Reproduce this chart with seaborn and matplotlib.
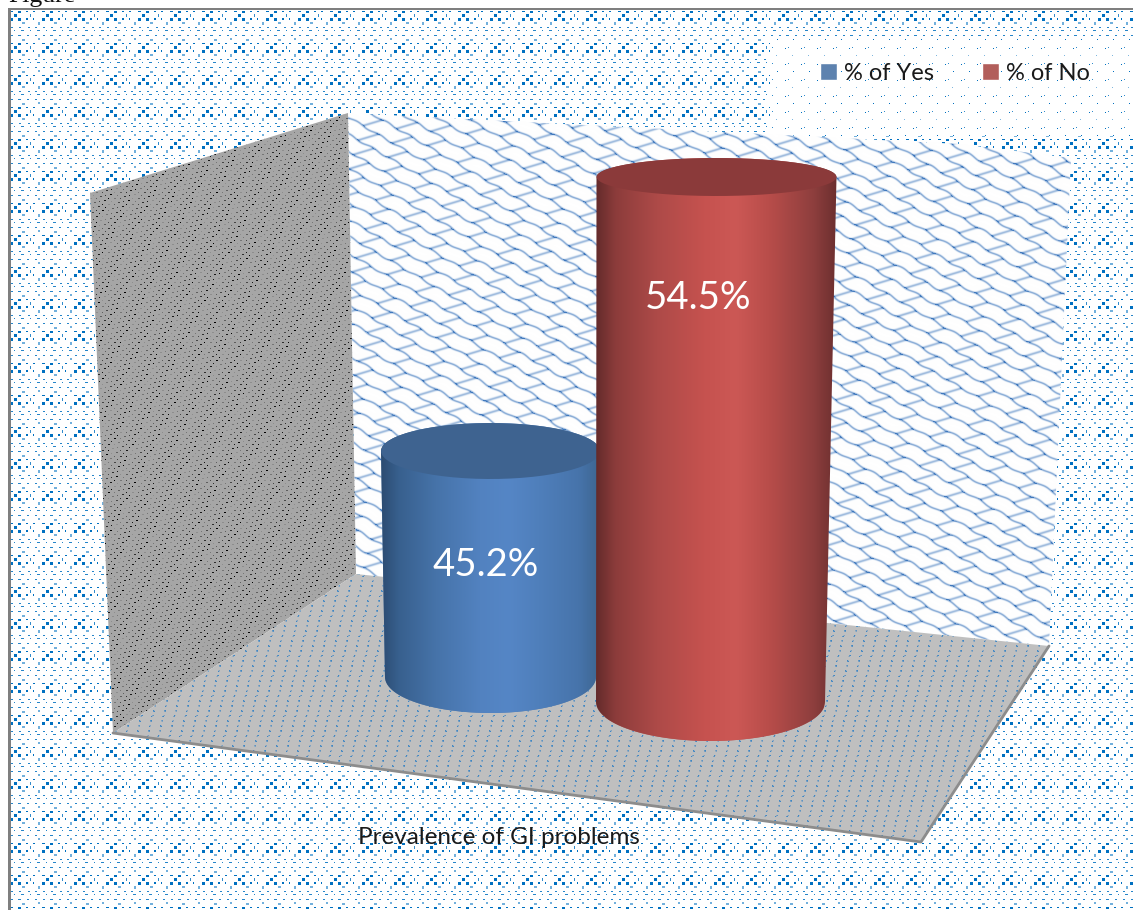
# %%
# Load imports
import numpy as np
import pandas as pd
import matplotlib
matplotlib.use('Agg')
import matplotlib.pyplot as plt
import seaborn as sns
from matplotlib.colors import LinearSegmentedColormap
from matplotlib.patches import Polygon

# %%
# Chart values
groups = ['% of Yes', '% of No']
percentages = [45.2, 54.5]
axis_title = 'Prevalence of GI problems'
bar_colors = ['#4f81bd', '#c0504d']
top_colors = ['#3e6390', '#8b3a3a']

# Excel 3D look: pixel shape of each cylinder (perspective, not data)
base_px = [677, 702]
top_half_w = [109.5, 120]
base_half_w = [105.5, 114.5]
top_shift = [0.5, 2.5]
base_shift = [0.5, -3.5]
top_half_h = [28, 19]
base_half_h = [36, 39]
label_shift = [(-4, 114), (-16, 121)]

blue_stops = ['#2c4c72', '#38608e', '#4673a9', '#5282c0', '#5586c6', '#4f7fbb', '#4774ab', '#3d658f']
red_stops = ['#642b2b', '#8c3c3b', '#ad4a48', '#c6524f', '#cc5855', '#b84d4a', '#8f3f3e', '#6c2f2f']

W, H = 1133, 910
sns.set_theme(style='white')
plt.rcParams['font.family'] = ['Lato', 'DejaVu Sans']

fig = plt.figure(figsize=(W / 100, H / 100), dpi=100, facecolor='white')
bg = fig.add_axes([0, 0, 1, 1], zorder=0)
ax = fig.add_axes([0, 0, 1, 1], zorder=1)
ov = fig.add_axes([0, 0, 1, 1], zorder=2)
for a in (bg, ov):
    a.set_xlim(0, W)
    a.set_ylim(H, 0)
    a.set_autoscale_on(False)
    a.axis('off')
ov.patch.set_alpha(0)

# %%
# Background textures
yy, xx = np.mgrid[0:H, 0:W]


def dotsTile():
    # 32x32 tile of the blue page pattern
    tile = np.zeros((32, 32))
    for x, y, w, h in [(14, 14, 3, 3), (10, 11, 3, 1), (18, 11, 3, 2), (10, 18, 3, 3), (18, 18, 3, 3),
                       (1, 11, 2, 1), (26, 18, 2, 2), (1, 18, 1, 2), (26, 11, 2, 1)]:
        tile[y:y + h, x:x + w] = 1
    tile[14:17, 30] = 0.8
    for x, y, w, h in [(6, 6, 2, 2), (22, 7, 3, 2), (6, 22, 2, 3), (22, 22, 3, 2)]:
        tile[y:y + h, x:x + w] = 0.55
    for x, y, w, h in [(3, 3, 2, 1), (11, 3, 2, 1), (18, 3, 3, 1), (27, 3, 2, 1),
                       (5, 30, 3, 1), (14, 30, 1, 1), (21, 30, 3, 1), (30, 30, 1, 1),
                       (3, 27, 2, 1), (11, 27, 2, 1), (19, 27, 2, 1), (28, 27, 2, 1)]:
        tile[y:y + h, x:x + w] = 0.85
    return tile


def blend(alpha, color, base=(1, 1, 1)):
    color = np.array(matplotlib.colors.to_rgb(color))
    base = np.array(matplotlib.colors.to_rgb(base))
    return base + alpha[..., None] * (color - base)


page = blend(dotsTile()[yy % 32, xx % 32], '#0070c0')
# frame of the pasted picture
page[:10, :] = 1
page[:, :8] = 1
page[8:10, 8:] = 0.5
page[8:, 8:11] = 0.5
bg.imshow(page, extent=(0, W, H, 0), aspect='auto', interpolation='nearest', zorder=1)

# sparser dots behind the legend
sparse = np.zeros((H, W))
sparse[(yy % 32 == 7) & (xx % 16 == 9)] = 1
sparse[(yy % 32 == 23) & (xx % 16 == 8)] = 0.5
sparse[(yy % 16 == 0) & (xx % 16 == 1)] = 1
sparse[(yy % 16 == 15) & (xx % 16 == 4)] = 0.8
im = bg.imshow(blend(sparse, '#0070c0'), extent=(0, W, H, 0), aspect='auto', interpolation='nearest', zorder=2)
im.set_clip_path(Polygon([(770, 38), (W, 38), (W, 136), (770, 136)], transform=bg.transData))

# back wall lattice
across = yy - 0.58 * xx
along = 0.3 * xx + yy
wavy = across + 1.0 * np.sin(2 * np.pi * (xx + 0.58 * yy) / 30)
v = wavy % 17
row = np.floor(wavy / 17)
u = (along + row * 13) % 26
line = np.exp(-(np.minimum(v, 17 - v) / 1.2) ** 2)
link = np.exp(-(np.minimum(u, 26 - u) / 1.3) ** 2)
lattice = np.clip(line * (0.6 + 0.4 * link) + link * 0.5, 0, 1)
im = bg.imshow(blend(lattice, '#3f78bd'), extent=(0, W, H, 0), aspect='auto', interpolation='bilinear', zorder=3)
im.set_clip_path(Polygon([(348, 113), (960, 144), (1071, 158), (1049, 646), (356, 574)], transform=bg.transData))

# left wall
speck = (((xx - yy) % 12 < 2) & ((xx + yy) % 8 < 2)) | (((xx - yy) % 12 == 6) & ((xx + yy) % 6 == 0))
shade = ((xx // 2 * 3 + yy // 2 * 5) % 7 + 1) / 7
im = bg.imshow(blend(speck * shade, '#000000', '#a6a6a6'), extent=(0, W, H, 0), aspect='auto', interpolation='nearest', zorder=4)
im.set_clip_path(Polygon([(90, 193), (348, 113), (356, 574), (113, 733)], transform=bg.transData))

# floor
floor_speck = ((xx + yy // 4) % 11 < 2) & (yy % 5 < 2)
floor_shade = ((xx * 5 + yy * 3) % 4 + 1) / 4 * 0.8
im = bg.imshow(blend(floor_speck * floor_shade, '#1f78c4', '#bfbfbf'), extent=(0, W, H, 0), aspect='auto', interpolation='bilinear', zorder=5)
im.set_clip_path(Polygon([(113, 733), (356, 574), (1049, 646), (921, 842)], transform=bg.transData))
bg.plot([113, 921, 1049], [733, 842, 646], color='#8c8c8c', lw=2, zorder=6)

# %%
# Bars through seaborn, with limits that put the values on the picture's scale
df = pd.DataFrame({'group': groups, 'pct': percentages})
sns.barplot(data=df, x='group', y='pct', hue='group', palette=bar_colors, width=0.98,
            dodge=False, legend=True, ax=ax)
px_per_pct = (451 - 177) / (percentages[1] - percentages[0])
ax.set_xlim(-490 / 224, (W - 490) / 224)
ax.set_ylim(percentages[0] - (H - 451) / px_per_pct, percentages[0] + 451 / px_per_pct)
ax.patch.set_alpha(0)
ax.set_xticks([])
ax.set_yticks([])
ax.set_ylabel('')
sns.despine(ax=ax, left=True, bottom=True)
ax.set_xlabel(axis_title, fontsize=17.5, color='#1a1a1a')
ax.xaxis.set_label_coords(498.5 / W, 1 - 838 / H, transform=ax.transAxes)
ax.xaxis.label.set_va('center')

handles, labels = ax.get_legend_handles_labels()
ax.legend(handles, labels, ncol=2, loc='center', bbox_to_anchor=(955 / W, 1 - 73 / H),
          frameon=False, fontsize=17, handlelength=0.75, handleheight=0.75,
          handletextpad=0.3, columnspacing=2.0, labelcolor='#1a1a1a')

# %%
# Turn each bar into a cylinder
to_px = lambda x, y: (ax.transData.transform((x, y)) * [1, -1]) + [0, H]
fig.canvas.draw()
t = np.linspace(0, np.pi, 60)
for i, container in enumerate(ax.containers):
    bar = container[0]
    cx = bar.get_x() + bar.get_width() / 2
    px_x, top_y = to_px(cx, percentages[i])
    xt, xb = px_x + top_shift[i], px_x + base_shift[i]
    low_arc = np.column_stack([xb - base_half_w[i] * np.cos(t), base_px[i] + base_half_h[i] * np.sin(t)])
    up_arc = np.column_stack([xt + top_half_w[i] * np.cos(t), top_y - top_half_h[i] * np.sin(t)])
    body = Polygon(np.vstack([low_arc, up_arc]), closed=True, transform=ov.transData, fc='none', ec='none')
    ov.add_patch(body)
    bar.set_clip_path(body)

    stops = blue_stops if i == 0 else red_stops
    pos = [0, 0.08, 0.25, 0.45, 0.58, 0.72, 0.9, 1]
    cmap = LinearSegmentedColormap.from_list('cyl', list(zip(pos, stops)))
    left, right = min(xt - top_half_w[i], xb - base_half_w[i]), max(xt + top_half_w[i], xb + base_half_w[i])
    grad = ov.imshow(np.linspace(0, 1, 256)[None, :], cmap=cmap, aspect='auto', interpolation='bilinear',
                     extent=(left, right, base_px[i] + 45, top_y - 30), zorder=3 + i * 2)
    grad.set_clip_path(body)

    top_arc = np.column_stack([xt + top_half_w[i] * np.cos(2 * t), top_y - top_half_h[i] * np.sin(2 * t)])
    ov.add_patch(Polygon(top_arc, closed=True, fc=top_colors[i], ec='none', zorder=4 + i * 2))

    dx, dy = label_shift[i]
    ov.text(px_x + dx, top_y + dy, f'{percentages[i]}%', color='white', fontsize=27.5,
            ha='center', va='center', zorder=10)

# caption of the page, cut by the top edge of the picture
fig.text(8 / W, 1 - 2 / H, 'Figure', family='Liberation Serif', fontsize=18.5, color='#111111', va='baseline')

fig.savefig('out.png', dpi=100)
